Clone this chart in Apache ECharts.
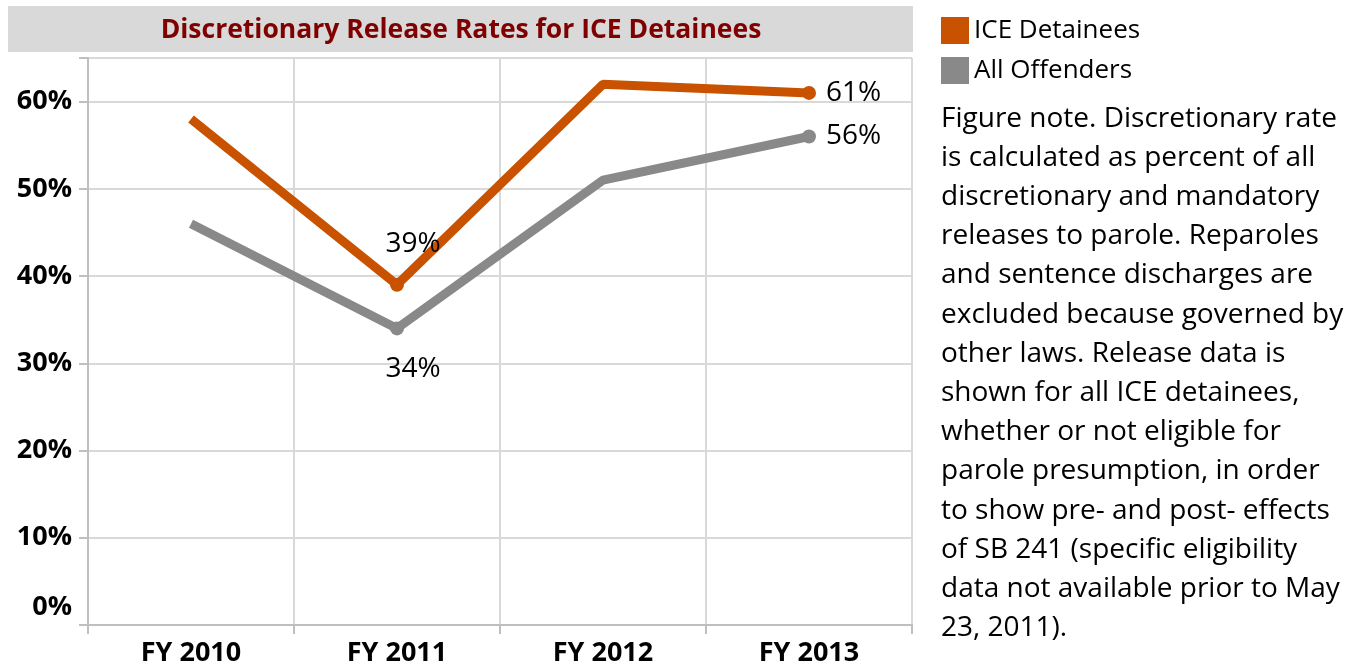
<!DOCTYPE html>
<html>
<head>
<meta charset="utf-8">
<script src="https://cdn.jsdelivr.net/npm/echarts@6/dist/echarts.min.js"></script>
<style>
  html, body { margin: 0; padding: 0; background: #fff; }
  #chart { width: 1356px; height: 669px; }
</style>
</head>
<body>
<div id="chart"></div>
<script>
// data
const years = ["FY 2010", "FY 2011", "FY 2012", "FY 2013"];
const iceDetainees = [58, 39, 62, 61];
const allOffenders = [46, 34, 51, 56];
// which points carry a value label, and where
const iceLabels = [null, "top", null, "right"];
const allLabels = [null, "bottom", null, "right"];

const noteLines = [
  "Figure note. Discretionary rate",
  "is calculated as percent of all",
  "discretionary and mandatory",
  "releases to parole. Reparoles",
  "and sentence discharges are",
  "excluded because governed by",
  "other laws. Release data is",
  "shown for all ICE detainees,",
  "whether or not eligible for",
  "parole presumption, in order",
  "to show pre- and post- effects",
  "of SB 241 (specific eligibility",
  "data not available prior to May",
  "23, 2011)."
];

const FONT = "'Open Sans', sans-serif";

// build point objects: marker + label only where the original shows one
function points(values, labels) {
  return values.map((v, i) => {
    const pos = labels[i];
    if (!pos) return { value: v, symbol: "none" };
    return {
      value: v,
      symbol: "circle",
      symbolSize: 14,
      label: {
        show: true,
        position: pos,
        distance: pos === "right" ? 10 : 20,
        offset: pos === "right" ? [0, 0] : [16, 0],
        formatter: "{c}%",
        color: "#000",
        fontSize: 28,
        fontFamily: FONT
      }
    };
  });
}

const myChart = echarts.init(document.getElementById("chart"));

const option = {
  animation: false,
  grid: { left: 88, right: 444, top: 58, bottom: 44 },
  legend: {
    orient: "vertical",
    left: 936,
    top: 12,
    icon: "rect",
    itemWidth: 28,
    itemHeight: 27,
    itemGap: 13,
    textStyle: { fontSize: 26, color: "#000", fontFamily: FONT },
    data: ["ICE Detainees", "All Offenders"]
  },
  graphic: [
    {
      type: "rect",
      shape: { x: 8, y: 6, width: 905, height: 46 },
      style: { fill: "#d9d9d9" },
      silent: true
    },
    {
      type: "text",
      x: 461,
      y: 30,
      style: {
        text: "Discretionary Release Rates for ICE Detainees",
        fill: "#7f0000",
        font: "bold 26.5px " + FONT,
        textAlign: "center",
        textVerticalAlign: "middle"
      }
    },
    {
      type: "text",
      x: 941,
      y: 99,
      style: {
        text: noteLines.join("\n"),
        fill: "#000",
        font: "28px " + FONT,
        lineHeight: 39.2
      }
    }
  ],
  xAxis: {
    type: "category",
    data: years,
    boundaryGap: true,
    axisLine: { lineStyle: { color: "#bfbfbf", width: 2 } },
    axisTick: { show: true, length: 9, lineStyle: { color: "#bfbfbf", width: 2 } },
    splitLine: { show: true, lineStyle: { color: "#d9d9d9", width: 2 } },
    axisLabel: {
      color: "#000",
      fontSize: 27,
      fontWeight: "bold",
      fontFamily: FONT,
      margin: 15
    }
  },
  yAxis: {
    type: "value",
    min: 0,
    max: 65,
    interval: 10,
    axisLine: { show: true, lineStyle: { color: "#bfbfbf", width: 2 } },
    axisTick: { show: true, length: 9, lineStyle: { color: "#bfbfbf", width: 2 } },
    splitLine: { show: true, lineStyle: { color: "#d9d9d9", width: 2 } },
    axisLabel: {
      color: "#000",
      fontSize: 27,
      fontWeight: "bold",
      fontFamily: FONT,
      margin: 16,
      formatter: function (v) {
        if (v > 60) return "";
        return v === 0 ? "{z|0%}" : v + "%";
      },
      rich: {
        z: { fontSize: 27, fontWeight: "bold", fontFamily: FONT, color: "#000", padding: [0, 0, 36, 0] }
      }
    }
  },
  series: [
    {
      name: "ICE Detainees",
      type: "line",
      data: points(iceDetainees, iceLabels),
      color: "#c85200",
      lineStyle: { color: "#c85200", width: 9 },
      itemStyle: { color: "#c85200" },
      z: 3
    },
    {
      name: "All Offenders",
      type: "line",
      data: points(allOffenders, allLabels),
      color: "#898989",
      lineStyle: { color: "#898989", width: 9 },
      itemStyle: { color: "#898989" },
      z: 2
    }
  ]
};

myChart.setOption(option);
window.addEventListener("resize", function () {
  myChart.resize();
});
</script>
</body>
</html>
